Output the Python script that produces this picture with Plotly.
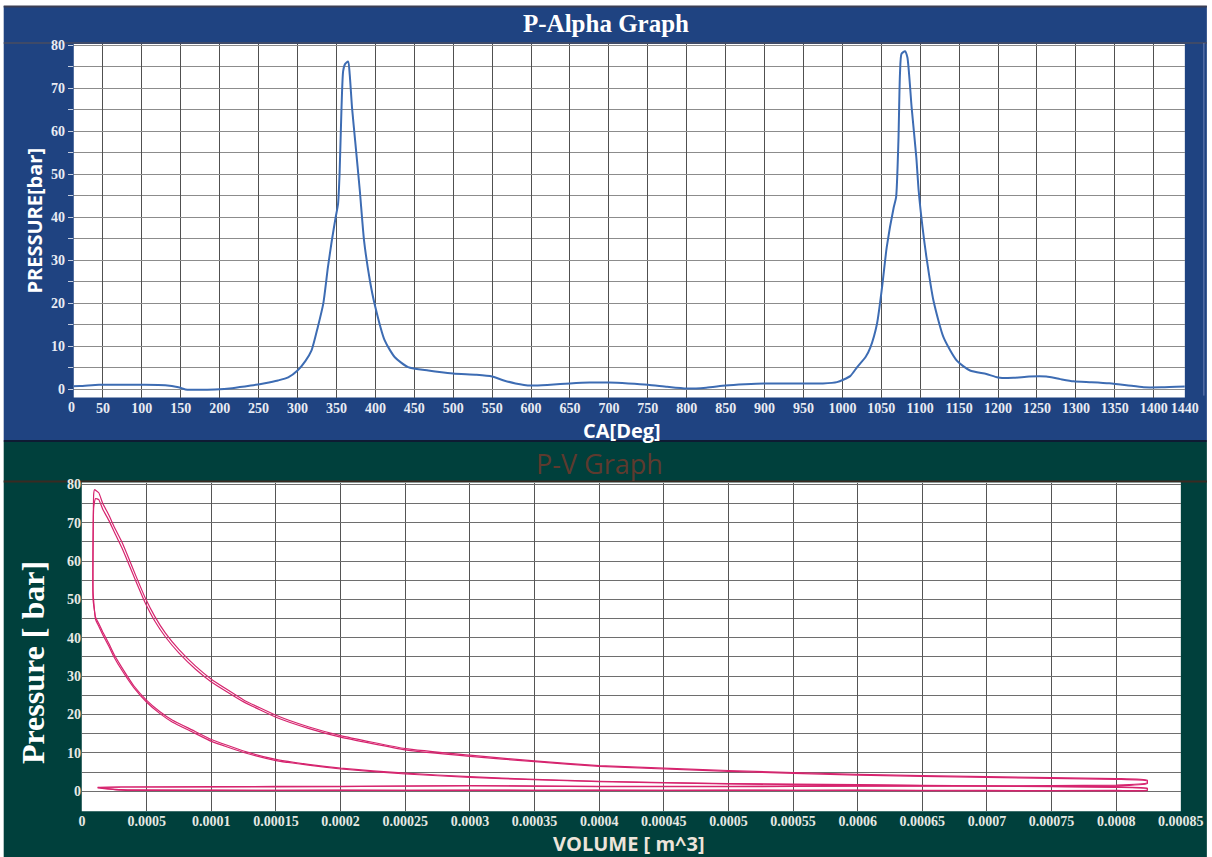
import plotly.graph_objects as go

# ---------------- P-Alpha data (crank angle [deg] vs pressure [bar]) ----------------
ca_deg = [0, 20, 45, 70, 100, 130, 147, 156, 175, 194, 216, 240, 258, 275, 288, 300, 310, 318, 326, 333,
          339, 344, 349, 352, 354, 356.5, 358.6, 361, 365, 367, 370, 374, 380, 385.5, 393, 399, 412, 425, 442, 468,
          500, 530, 550, 565, 580, 600, 625, 650, 675, 700, 725, 750, 775, 800, 825, 850, 875, 900, 925, 950,
          975, 993, 1010, 1019, 1030, 1036, 1044.5, 1051, 1057, 1066, 1069, 1072, 1074, 1076, 1080.5, 1083.5, 1089, 1095, 1098, 1103,
          1108, 1117, 1130, 1147, 1164, 1185, 1200, 1220, 1240, 1262, 1280, 1297, 1320, 1343, 1365, 1387, 1410, 1440]
pressure_bar = [0.6, 0.7, 1.0, 1.0, 1.0, 0.9, 0.4, -0.1, -0.2, -0.1, 0.2, 0.8, 1.35, 2.0, 2.7, 4.3, 6.5, 9.0, 14.4, 19.8,
                28.3, 34.5, 40.0, 43.0, 50.0, 65.5, 74.0, 75.6, 76.2, 73.3, 65.5, 57.8, 46.2, 34.5, 25.2, 19.8, 11.3, 7.4, 5.1, 4.3,
                3.6, 3.3, 2.9, 2.0, 1.3, 0.8, 1.0, 1.3, 1.5, 1.5, 1.3, 1.0, 0.5, 0.1, 0.3, 0.8, 1.1, 1.3, 1.3, 1.3,
                1.3, 1.6, 3.0, 5.1, 7.5, 9.7, 15.2, 23.7, 33.0, 42.3, 44.6, 57.8, 73.3, 78.0, 78.6, 77.2, 65.5, 53.9, 46.2, 37.6,
                30.7, 20.6, 12.0, 6.6, 4.3, 3.5, 2.7, 2.6, 2.9, 2.9, 2.3, 1.8, 1.6, 1.35, 0.9, 0.4, 0.4, 0.6]

ca_tick_vals = [0, 50, 100, 150, 200, 250, 300, 350, 400, 450, 500, 550, 600, 650, 700, 750, 800, 850, 900,
                950, 1000, 1050, 1100, 1150, 1200, 1250, 1300, 1350, 1400, 1440]
p_tick_vals = [0, 10, 20, 30, 40, 50, 60, 70, 80]

# ---------------- P-V data (volume [m^3] vs pressure [bar]), two cycles ----------------
cycle1_volume = [1.2e-5, 3e-5, 1e-4, 2e-4, 3e-4, 4e-4, 5e-4, 6e-4, 7e-4, 8e-4, 8.24e-4,
                 8.24e-4, 8e-4, 7e-4, 6e-4, 5e-4, 4e-4, 3.5e-4, 3e-4, 2.5e-4, 2e-4, 1.75e-4, 1.5e-4, 1.25e-4, 1e-4, 8.5e-5, 7e-5, 6e-5, 5e-5, 4e-5,
                 3.07e-5, 2.5e-5, 2.07e-5, 1.6e-5, 1.29e-5, 1.04e-5,
                 8.5e-6, 8.5e-6, 9.0e-6, 1.05e-5,
                 1.29e-5, 1.6e-5, 2.07e-5, 2.5e-5, 3.07e-5, 3.6e-5, 4.13e-5, 4.9e-5, 5.6e-5, 6.45e-5, 7.5e-5, 8.78e-5, 1e-4, 1.25e-4,
                 1.5e-4, 1.75e-4, 2e-4, 2.5e-4, 3e-4, 3.5e-4, 4e-4, 4.5e-4, 5e-4, 6e-4, 7e-4, 8e-4, 8.24e-4,
                 8.24e-4, 8e-4, 7e-4, 6e-4, 5e-4, 4e-4, 3e-4, 2e-4, 1e-4, 3e-5, 1.2e-5]
cycle1_pressure = [0.9, 0.3, 0.2, 0.3, 0.2, 0.3, 0.2, 0.3, 0.2, 0.1, 0.2,
                   0.8, 1.1, 1.4, 1.7, 2.0, 2.6, 3.1, 3.8, 4.7, 6.0, 7.0, 8.3, 10.5, 13.5, 16.0, 18.5, 20.8, 23.7, 27.5,
                   32.3, 35.5, 38.5, 41.5, 43.7, 45.4,
                   50.0, 65.0, 74.0, 76.3,
                   76.0, 73.5, 70.6, 67.5, 63.5, 59.3, 55.0, 49.0, 44.5, 40.2, 36.0, 31.8, 28.5, 23.3,
                   19.3, 16.4, 14.1, 10.8, 9.1, 7.7, 6.5, 5.8, 5.2, 4.2, 3.6, 3.1, 2.7,
                   2.0, 1.4, 1.3, 1.3, 1.2, 1.2, 1.5, 1.2, 1.1, 1.1, 1.0]
cycle2_volume = [1.2e-5, 3e-5, 1e-4, 2e-4, 3e-4, 4e-4, 5e-4, 6e-4, 7e-4, 8e-4, 8.24e-4,
                 8.24e-4, 8e-4, 7e-4, 6e-4, 5e-4, 4e-4, 3.5e-4, 3e-4, 2.5e-4, 2e-4, 1.75e-4, 1.5e-4, 1.25e-4, 1e-4, 8.5e-5, 7e-5, 6e-5, 5e-5, 4e-5,
                 3.07e-5, 2.5e-5, 2.07e-5, 1.6e-5, 1.29e-5, 1.04e-5,
                 8.5e-6, 8.6e-6, 9.0e-6, 9.6e-6,
                 1.29e-5, 1.6e-5, 2.07e-5, 2.5e-5, 3.07e-5, 3.6e-5, 4.13e-5, 4.9e-5, 5.6e-5, 6.45e-5, 7.5e-5, 8.78e-5, 1e-4, 1.25e-4,
                 1.5e-4, 1.75e-4, 2e-4, 2.5e-4, 3e-4, 3.5e-4, 4e-4, 4.5e-4, 5e-4, 6e-4, 7e-4, 8e-4, 8.24e-4,
                 8.24e-4, 8e-4, 7e-4, 6e-4, 5e-4, 4e-4, 3e-4, 2e-4, 1e-4, 3e-5, 1.2e-5]
cycle2_pressure = [1.0, 0.4, 0.3, 0.2, 0.3, 0.2, 0.3, 0.2, 0.1, 0.2, 0.3,
                   0.7, 1.0, 1.3, 1.6, 1.9, 2.5, 3.0, 3.6, 4.5, 5.8, 6.8, 8.0, 10.1, 13.0, 15.5, 18.0, 20.3, 23.2, 27.0,
                   31.6, 34.8, 37.8, 40.8, 43.0, 44.8,
                   52.0, 68.0, 77.5, 78.6,
                   77.8, 75.0, 72.0, 68.8, 65.0, 60.8, 56.4, 50.3, 45.7, 41.2, 36.9, 32.6, 29.2, 23.8,
                   19.8, 16.8, 14.5, 11.1, 9.4, 7.9, 6.7, 6.0, 5.4, 4.4, 3.8, 3.3, 2.9,
                   2.2, 1.6, 1.4, 1.4, 1.3, 1.3, 1.4, 1.3, 1.2, 1.1, 1.0]

vol_tick_vals = [0, 0.00005, 0.0001, 0.00015, 0.0002, 0.00025, 0.0003, 0.00035, 0.0004, 0.00045,
                 0.0005, 0.00055, 0.0006, 0.00065, 0.0007, 0.00075, 0.0008, 0.00085]
vol_tick_text = ["0", "0.0005", "0.0001", "0.00015", "0.0002", "0.00025", "0.0003", "0.00035", "0.0004", "0.00045",
                 "0.0005", "0.00055", "0.0006", "0.00065", "0.0007", "0.00075", "0.0008", "0.00085"]

# ---------------- layout helpers ----------------
# map target-picture pixel positions to page pixels (the capture shows the page slightly scaled/offset)
SX, OX = 0.978, 4.3
SY, OY = 0.994, 5.0
def PX(x):
    return (x - OX) / SX
def PY(y):
    return (y - OY) / SY

W = int(round(PX(1212)))
H = int(round(PY(857)))
def fx(px):
    return PX(px) / W
def fy(py):
    return 1 - PY(py) / H

BLUE = "#1f4381"
TEAL = "#00403c"
SERIF = "Liberation Serif"
SANS = "Open Sans"

fig = go.Figure()
fig.add_trace(go.Scatter(x=ca_deg, y=pressure_bar, mode="lines",
                         line=dict(color="#3d6cb3", width=2, shape="spline", smoothing=0.6),
                         xaxis="x", yaxis="y", showlegend=False))
fig.add_trace(go.Scatter(x=cycle1_volume, y=cycle1_pressure, mode="lines",
                         line=dict(color="#d6246e", width=1.2, shape="spline", smoothing=0.4),
                         xaxis="x2", yaxis="y2", showlegend=False))
fig.add_trace(go.Scatter(x=cycle2_volume, y=cycle2_pressure, mode="lines",
                         line=dict(color="#d6246e", width=1.2, shape="spline", smoothing=0.4),
                         xaxis="x2", yaxis="y2", showlegend=False))

def rect(x0, y0, x1, y1, color):
    return dict(type="rect", xref="paper", yref="paper", x0=fx(x0), x1=fx(x1), y0=fy(y1), y1=fy(y0),
                fillcolor=color, line=dict(width=0), layer="below")
def hline(x0, x1, y, color, width):
    return dict(type="line", xref="paper", yref="paper", x0=fx(x0), x1=fx(x1), y0=fy(y), y1=fy(y),
                line=dict(color=color, width=width), layer="below")
def vline(x, y0, y1, color, width):
    return dict(type="line", xref="paper", yref="paper", x0=fx(x), x1=fx(x), y0=fy(y0), y1=fy(y1),
                line=dict(color=color, width=width), layer="below")

shapes = [
    rect(5, 5, 1207, 440, BLUE),
    rect(5, 441, 1207, 857, TEAL),
    hline(5, 1207, 5.5, "#3b3f55", 2),
    hline(5, 1207, 42, "#4a4d60", 1.5),
    hline(5, 1207, 440.5, "#0e1a33", 2),
    hline(5, 1207, 481, "#3a2a22", 2),
    vline(1204, 42, 395, "#6c82b8", 1),
    rect(75, 43, 1185, 397, "white"),
    rect(83, 482, 1181, 811, "white"),
]

tick_font_top = dict(family=SERIF, size=14, color="#e8ebf3", weight="bold")
tick_font_bot = dict(family=SERIF, size=14, color="#e6e9e4", weight="bold")

fig.update_layout(
    width=W, height=H,
    margin=dict(l=0, r=0, t=0, b=0),
    paper_bgcolor="white",
    plot_bgcolor="white",
    showlegend=False,
    shapes=shapes,
    xaxis=dict(domain=[fx(75), fx(1185)], anchor="y", range=[12.5, 1440],
               tickmode="array", tickvals=ca_tick_vals, ticktext=[str(v) for v in ca_tick_vals],
               showgrid=True, gridcolor="#505050", gridwidth=1, zeroline=False, showline=False,
               ticks="", tickfont=tick_font_top, fixedrange=True),
    yaxis=dict(domain=[fy(397), fy(43)], anchor="x", range=[-2, 80.3],
               tickmode="array", tickvals=p_tick_vals,
               showgrid=True, gridcolor="#8c8c8c", gridwidth=1.2, zeroline=False, showline=False,
               ticks="outside", ticklen=5, tickcolor="#c8d0e0", tickwidth=1,
               minor=dict(tickvals=[5, 15, 25, 35, 45, 55, 65, 75], showgrid=True, gridcolor="#8c8c8c",
                          gridwidth=1.2, ticks="outside", ticklen=5, tickcolor="#c8d0e0"),
               tickfont=tick_font_top, fixedrange=True),
    xaxis2=dict(domain=[fx(83.3), fx(1181)], anchor="y2", range=[0, 0.00085],
                tickmode="array", tickvals=vol_tick_vals, ticktext=vol_tick_text,
                showgrid=True, gridcolor="#555555", gridwidth=1, zeroline=False, showline=False,
                ticks="", tickfont=tick_font_bot, fixedrange=True),
    yaxis2=dict(domain=[fy(811), fy(482)], anchor="x2", range=[-5.2, 80.47],
                tickmode="array", tickvals=p_tick_vals,
                showgrid=True, gridcolor="#6e6e6e", gridwidth=1.2, zeroline=False, showline=False,
                ticks="",
                minor=dict(tickvals=[-5, 5, 15, 25, 35, 45, 55, 65, 75], showgrid=True, gridcolor="#6e6e6e", gridwidth=1.2),
                tickfont=tick_font_bot, fixedrange=True),
)

annotations = [
    dict(text="P-Alpha Graph", x=fx(607), y=fy(23), xref="paper", yref="paper", showarrow=False,
         xanchor="center", yanchor="middle", font=dict(family=SERIF, size=25, color="white", weight="bold")),
    dict(text="PRESSURE[bar]", x=fx(36), y=fy(220), xref="paper", yref="paper", showarrow=False, textangle=-90,
         xanchor="center", yanchor="middle", font=dict(family=SANS, size=20, color="white", weight="bold")),
    dict(text="CA[Deg]", x=fx(623), y=fy(430), xref="paper", yref="paper", showarrow=False,
         xanchor="center", yanchor="middle", font=dict(family=SANS, size=20, color="white", weight="bold")),
    dict(text="0", x=fx(73), y=fy(407), xref="paper", yref="paper", showarrow=False,
         xanchor="center", yanchor="middle", font=tick_font_top),
    dict(text="P-V Graph", x=fx(600), y=fy(463), xref="paper", yref="paper", showarrow=False,
         xanchor="center", yanchor="middle", font=dict(family=SANS, size=27, color="#5e3a2e")),
    dict(text="Pressure [ bar]", x=fx(35), y=fy(662), xref="paper", yref="paper", showarrow=False, textangle=-90,
         xanchor="center", yanchor="middle", font=dict(family=SERIF, size=32, color="white", weight="bold")),
    dict(text="VOLUME [ m^3]", x=fx(630), y=fy(843), xref="paper", yref="paper", showarrow=False,
         xanchor="center", yanchor="middle", font=dict(family=SANS, size=20, color="#ece4da", weight="bold")),
]
fig.update_layout(annotations=annotations)

fig.write_html("out.html", config={"displayModeBar": False},
               post_script="document.body.style.margin='0';document.body.style.overflow='hidden';")
